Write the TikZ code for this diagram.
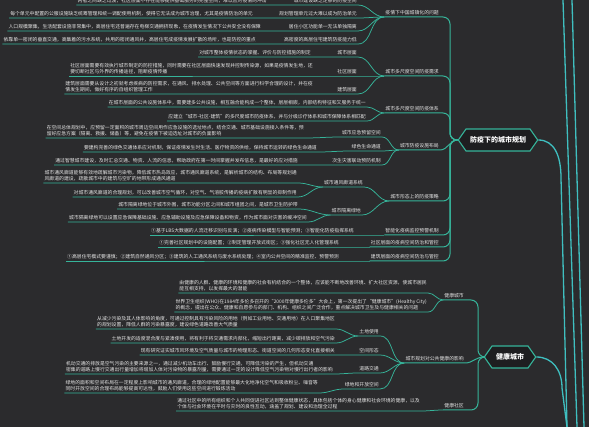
\documentclass[tikz,border=0pt]{standalone}
\usepackage{fontspec}
\setmainfont{Noto Sans CJK SC}
\usepackage{tikz}
\usetikzlibrary{shapes.symbols}
\definecolor{mapbg}{HTML}{2B2B2D}
\definecolor{mapline}{HTML}{36B49A}
\definecolor{maprim}{HTML}{3FBFC0}
\definecolor{maptext}{HTML}{E6E6E6}
\definecolor{maphexfill}{HTML}{1E1E20}
\tikzset{
  mapleaf/.style    = {anchor=south east, align=left, text=maptext,
                       font=\fontsize{4.85}{6.6}\selectfont,
                       inner xsep=1pt, inner ysep=1.5pt},
  mapsub/.style     = {mapleaf},
  maptopic/.style   = {mapleaf},
  maphex/.style     = {signal, signal to=west and east, signal pointer angle=110,
                       draw=mapline, fill=maphexfill, line width=1.1pt, text=white,
                       font=\fontsize{7}{8}\selectfont\bfseries, inner xsep=4pt,
                       minimum height=22pt},
  maplink/.style    = {draw=mapline, line width=0.75pt},
  maptrunk/.style   = {draw=mapline, line width=1pt, rounded corners=7pt},
  maprootlink/.style= {draw=maprim, line width=1.3pt},
}

\begin{document}
\begin{tikzpicture}[x=1pt,y=-1pt]
  \useasboundingbox (0,0) rectangle (589,427);
  \fill[mapbg] (0,0) rectangle (589,427);

  \node[maphex] (plan)   at (498,140) {防疫下的城市规划};
  \node[maphex] (health) at (510,357) {健康城市};

  \node[maptopic] (crisis)  at (440,17)  {疫情下中国城镇化的问题};
  \node[maptopic] (demand)  at (440,76)  {城市多尺度空间防疫需求};
  \node[maptopic] (system)  at (440,113) {城市多尺度空间防疫体系};
  \node[maptopic] (layout)  at (440,150) {城市防疫设施布局};
  \node[maptopic] (form)    at (440,201) {城市形态上的防疫策略};
  \node[maptopic] (warn)    at (440,235) {智能化疫病监控预警机制};
  \node[maptopic] (commctl) at (440,247) {社区层面的疫病空间防治和管控};
  \node[maptopic] (bldgctl) at (440,261) {建筑层面的疫病空间防治与管控};

  \node[mapsub] (lack)   at (358,5)  {城市建设缺乏足够的防疫空间};
  \node[mapsub] (unit)   at (358,18) {规划管理单元过大难以成为防治单元};
  \node[mapsub] (estate) at (358,31) {居住小区功能单一无法单独隔离};
  \node[mapsub] (tower)  at (358,44) {高密度的高层住宅建筑防疫能力低};
  \node[mapleaf] (lackx)   at (268,5)  {两者之间缺乏过渡，社区层面不存在能够提供基础服务的完整空间，难以应对疫情的冲击};
  \node[mapleaf] (unitx)   at (254,18) {每个单元中配置的公服设施缺乏统筹管理和统一调配使用机制，使得它无法成为城市治理，尤其是疫情防治的单元};
  \node[mapleaf] (estatex) at (262,31) {人口规模聚集，生活配套设施非常集中，高层住宅还普遍存在电梯交通拥挤现象，在疫情发生情况下公共安全没有保障};
  \node[mapleaf] (towerx)  at (257,44) {依靠单一密闭的垂直交通，高集着的污水系统，共用的密闭通风井，高层住宅成疫情发展扩散的场所，也是防控的重点};

  \node[mapsub] (citylv) at (358,57) {城市层面};
  \node[mapsub] (commlv) at (358,76) {社区层面};
  \node[mapsub] (bldglv) at (358,94) {建筑层面};
  \node[mapleaf] (citylvx) at (312,57) {对城市整体疫情状态的掌握、评价与防控措施的制定};
  \node[mapleaf] (commlvx) at (314,76) {社区层面需要有效执行城市制定的防控措施，同时需要在社区层面快速发现并控制传染源，如果是疫情发生地，还\\要切断社区与外界的传播途径，阻断疫情传播};
  \node[mapleaf] (bldglvx) at (314,94) {建筑层面需要从设计之初就考虑疾病的防控需求，在通风、排水处理、公共空间等方面进行科学合理的设计，并在疫\\情发生期间，做好有序的自组织管理工作};

  \node[mapleaf] (netx)  at (367,107) {在城市层面的公共设施体系中，需要建多公共设施，相互融合能构成一个整体，层层相嵌，内部结构特征和又服务于统一};
  \node[mapleaf] (tierx) at (367,121) {应建立“城市-社区-建筑”的多尺度城市防疫体系，并与分级诊疗体系和城市保障体系相匹配};

  \node[mapsub] (reserve) at (382,137) {城市应急预留空间};
  \node[mapsub] (green)   at (382,151) {绿色生命通道};
  \node[mapsub] (chain)   at (382,165) {次生灾害联动预防机制};
  \node[mapleaf] (reservex) at (305,138) {在空间总体规划中，应预留一定面积的城市周边空间用作应急设施的选址地点，结合交通、城市基础设施接入条件等，预\\留好应急方案（隔离、救援、储备）等，避免在疫情下被迫选址对城市的负面影响};
  \node[mapleaf] (greenx)   at (318,152) {要建构完善的绿色交通体系应对机制，保证疫情发生时生活、医疗物资的供给，保持城市运转的绿色生命通道};
  \node[mapleaf] (chainx)   at (299,165) {通过智慧城市建设，及时汇总交通、物资、人流的信息，帮助政府在第一时间掌握并发布信息，是最好的应对措施};

  \node[mapsub] (vent) at (364,187) {城市通风廊道系统};
  \node[mapsub] (belt) at (362,215) {城市隔离绿地};
  \node[mapleaf] (ventx)  at (298,183) {城市通风廊道能够有效地疏解城市污染物，降低城市热岛效应，城市通风廊道系统，是解析城市的结构、布局等规划通\\风廊道的建设，疏散城市中的建筑与空旷的地带形成通风通道};
  \node[mapleaf] (ventxx) at (298,197) {对城市通风廊道的合理规划，可以改善城市空气循环，对空气、气溶胶传播的疫病扩散有明显的抑制作用};
  \node[mapleaf] (beltx)  at (299,209) {城市隔离绿地位于城市外围，城市功能分区之间和城市组团之间，是城市卫生防护带};
  \node[mapleaf] (beltxx) at (308,222) {城市隔离绿地可以设置应急保障基础设施、应急辅助设施及应急保障设备和物资，作为城市面对灾害的缓冲空间};

  \node[mapleaf] (warnx)    at (355,235) {①基于LBS大数据的人流迁移识别与反演；②疫病传染模型与智能预测；③智能化防疫指挥系统};
  \node[mapleaf] (commctlx) at (340,247) {①完善社区规划中的设施配置；②制定管理开放式街区；③强化社区无人化管理系统};
  \node[mapleaf] (bldgctlx) at (340,261) {①高层住宅模式要谨慎；②建筑自然通风分区；③建筑的人工通风系统与废水系统处理；④室内公共空间的精准监控、预警预测};

  \node[maptopic] (hcity)  at (465,300) {健康城市};
  \node[maptopic] (impact) at (465,363) {城市规划对公共健康的影响};
  \node[maptopic] (hcomm)  at (465,410) {健康社区};
  \node[mapleaf] (hcityx) at (428,293) {由健康的人群、健康的环境和健康的社会有机结合的一个整体，应该能不断地改善环境、扩大社区资源，使城市居民\\能互相支持，以发挥最大的潜能};
  \node[mapleaf] (whox)   at (428,312) {世界卫生组织(WHO)在1984年多伦多召开的“2000年健康多伦多”大会上，第一次提出了“健康城市”(Healthy City)\\的概念，提出在公众、健康和自愿参与的部门、机构、组织之间广泛合作，重点解决城市卫生及与健康相关的问题};

  \node[mapsub] (land)   at (380,336) {土地使用};
  \node[mapsub] (shape)  at (380,355) {空间形态};
  \node[mapsub] (road)   at (380,373) {道路交通};
  \node[mapsub] (open)   at (380,389) {绿地和开放空间};
  \node[mapleaf] (landx)  at (336,329) {从减少污染及其人体影响的角度，可通过控制具有污染风险的用地（例如工业用地、交通用地）在人口聚集地区\\的规划设置，降低人群的污染暴露度，建设绿色道路改善大气质量};
  \node[mapleaf] (landxx) at (336,343) {土地开发的适度混合度与紧凑使用，将有利于将交通需求内部化，缩短出行距离，减少碳排放和空气污染};
  \node[mapleaf] (shapex) at (336,355) {现有研究证实城市风环境及空气质量与城市的物理形态、街道空间的几何形态变化直接相关};
  \node[mapleaf] (roadx)  at (334,374) {机动交通的排放是空气污染的主要来源之一，通过减少机动车出行、鼓励慢行交通，可降低污染的产生，但机动交通\\密集的道路上慢行交通出行量增加将增加人体对污染物的暴露剂量，需要通过一定的设计降低空气污染物对慢行出行者的影响};
  \node[mapleaf] (openx)  at (319,393) {绿地的面积和空间布局在一定程度上影响城市的通风廊道，合理的绿地配置能够最大化地净化空气和吸收粉尘、噪音等\\同时开放空间的合理布局能够提高可达性，鼓励人们使用这些空间进行锻炼活动};
  \node[mapleaf] (hcommx) at (421,411) {通过社区中的所有组织和个人共同促进社区达到整体健康状态，具体包括个体的身心健康和社会环境的健康，以及\\个体与社会环境在平时与灾时的良性互动，涵盖了规划、建设和治理全过程};

  \coordinate (planjoin)   at (450,140);
  \coordinate (healthjoin) at (478,357);
  \coordinate (planbend)   at (561,178);
  \coordinate (healthbend) at (562,388);
  \coordinate (rootfoot)   at (567,427);
  \coordinate (railatop) at (563,0);
  \coordinate (railafoot) at (577,427);
  \coordinate (railbtop) at (572,0);
  \coordinate (railbfoot) at (584,427);

  \draw[maprootlink] (railatop) -- (railafoot);
  \draw[maprootlink] (railbtop) -- (railbfoot);
  \draw[maprootlink] (plan.east) .. controls +(16,0) and +(0,-22) .. (planbend) -- (rootfoot);
  \draw[maprootlink] (health.east) .. controls +(16,0) and +(0,-18) .. (healthbend) -- (rootfoot);

  \draw[maptrunk] (crisis.south west) -- (crisis.south east -| planjoin) -- (planjoin) -- (plan.west);
  \draw[maptrunk] (demand.south west) -- (demand.south east -| planjoin) -- (planjoin) -- (plan.west);
  \draw[maptrunk] (system.south west) -- (system.south east -| planjoin) -- (planjoin) -- (plan.west);
  \draw[maplink, line width=1pt] (layout.south west) -- (layout.south east) to[out=0,in=180] (plan.west);
  \draw[maptrunk] (form.south west) -- (form.south east -| planjoin) -- (planjoin) -- (plan.west);
  \draw[maptrunk] (warn.south west) -- (warn.south east -| planjoin) -- (planjoin) -- (plan.west);
  \draw[maptrunk] (commctl.south west) -- (commctl.south east -| planjoin) -- (planjoin) -- (plan.west);
  \draw[maptrunk] (bldgctl.south west) -- (bldgctl.south east -| planjoin) -- (planjoin) -- (plan.west);

  \draw[maplink] (crisis.south west) to[out=180,in=0] (lack.south east) -- (lack.south west) -- (lackx.south east) -- (lackx.south west);
  \draw[maplink] (crisis.south west) to[out=180,in=0] (unit.south east) -- (unit.south west) -- (unitx.south east) -- (unitx.south west);
  \draw[maplink] (crisis.south west) to[out=180,in=0] (estate.south east) -- (estate.south west) -- (estatex.south east) -- (estatex.south west);
  \draw[maplink] (crisis.south west) to[out=180,in=0] (tower.south east) -- (tower.south west) -- (towerx.south east) -- (towerx.south west);

  \draw[maplink] (demand.south west) to[out=180,in=0] (citylv.south east) -- (citylv.south west) -- (citylvx.south east) -- (citylvx.south west);
  \draw[maplink] (demand.south west) to[out=180,in=0] (commlv.south east) -- (commlv.south west) -- (commlvx.south east) -- (commlvx.south west);
  \draw[maplink] (demand.south west) to[out=180,in=0] (bldglv.south east) -- (bldglv.south west) -- (bldglvx.south east) -- (bldglvx.south west);

  \draw[maplink] (system.south west) to[out=180,in=0] (netx.south east) -- (netx.south west);
  \draw[maplink] (system.south west) to[out=180,in=0] (tierx.south east) -- (tierx.south west);

  \draw[maplink] (layout.south west) to[out=180,in=0] (reserve.south east) -- (reserve.south west) to[out=180,in=0] (reservex.south east) -- (reservex.south west);
  \draw[maplink] (layout.south west) to[out=180,in=0] (green.south east) -- (green.south west) to[out=180,in=0] (greenx.south east) -- (greenx.south west);
  \draw[maplink] (layout.south west) to[out=180,in=0] (chain.south east) -- (chain.south west) -- (chainx.south east) -- (chainx.south west);

  \draw[maplink] (form.south west) to[out=180,in=0] (vent.south east) -- (vent.south west) to[out=180,in=0] (ventx.south east) -- (ventx.south west);
  \draw[maplink] (vent.south west) to[out=180,in=0] (ventxx.south east) -- (ventxx.south west);
  \draw[maplink] (form.south west) to[out=180,in=0] (belt.south east) -- (belt.south west) to[out=180,in=0] (beltx.south east) -- (beltx.south west);
  \draw[maplink] (belt.south west) to[out=180,in=0] (beltxx.south east) -- (beltxx.south west);

  \draw[maplink] (warn.south west) -- (warnx.south east) -- (warnx.south west);
  \draw[maplink] (commctl.south west) -- (commctlx.south east) -- (commctlx.south west);
  \draw[maplink] (bldgctl.south west) -- (bldgctlx.south east) -- (bldgctlx.south west);

  \draw[maptrunk] (hcity.south west) -- (hcity.south east -| healthjoin) -- (healthjoin) -- (health.west);
  \draw[maptrunk] (hcomm.south west) -- (hcomm.south east -| healthjoin) -- (healthjoin) -- (health.west);
  \draw[maplink, line width=1pt] (impact.south west) -- (impact.south east) to[out=0,in=180] (health.west);

  \draw[maplink] (hcity.south west) to[out=180,in=0] (hcityx.south east) -- (hcityx.south west);
  \draw[maplink] (hcity.south west) to[out=180,in=0] (whox.south east) -- (whox.south west);
  \draw[maplink] (hcomm.south west) to[out=180,in=0] (hcommx.south east) -- (hcommx.south west);

  \draw[maplink] (impact.south west) to[out=180,in=0] (land.south east) -- (land.south west) to[out=180,in=0] (landx.south east) -- (landx.south west);
  \draw[maplink] (land.south west) to[out=180,in=0] (landxx.south east) -- (landxx.south west);
  \draw[maplink] (impact.south west) to[out=180,in=0] (shape.south east) -- (shape.south west) -- (shapex.south east) -- (shapex.south west);
  \draw[maplink] (impact.south west) to[out=180,in=0] (road.south east) -- (road.south west) to[out=180,in=0] (roadx.south east) -- (roadx.south west);
  \draw[maplink] (impact.south west) to[out=180,in=0] (open.south east) -- (open.south west) to[out=180,in=0] (openx.south east) -- (openx.south west);
\end{tikzpicture}
\end{document}
